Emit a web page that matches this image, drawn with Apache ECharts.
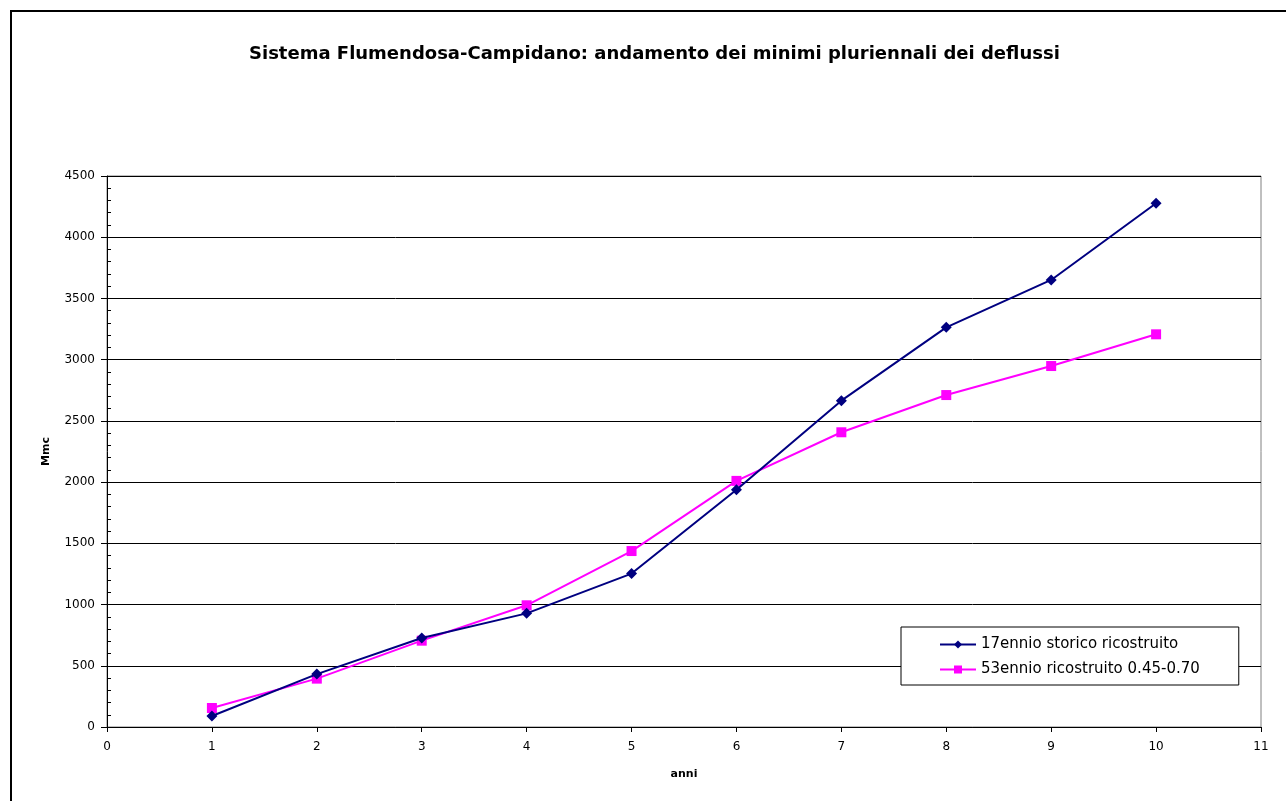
<!DOCTYPE html>
<html>
<head>
<meta charset="utf-8">
<title>Sistema Flumendosa-Campidano</title>
<script src="https://cdn.jsdelivr.net/npm/echarts@6/dist/echarts.min.js"></script>
<style>
  html, body { margin: 0; padding: 0; background: #ffffff; }
  #chart { width: 1286px; height: 801px; }
</style>
</head>
<body>
<div id="chart"></div>
<script>
// Years of the multi-year window (x) and minimum multi-year runoff (Mmc)
const anni = [1, 2, 3, 4, 5, 6, 7, 8, 9, 10];
const storico17 = [90, 432, 727, 928, 1253, 1937, 2665, 3264, 3651, 4277];
const ricostruito53 = [155, 395, 705, 994, 1437, 2010, 2407, 2711, 2948, 3207];

const seriesNames = ['17ennio storico ricostruito', '53ennio ricostruito 0.45-0.70'];
const titleText = 'Sistema Flumendosa-Campidano: andamento dei minimi pluriennali dei deflussi';

const FONT = 'DejaVu Sans, Liberation Sans, Arial, sans-serif';

const chart = echarts.init(document.getElementById('chart'), null, { renderer: 'canvas' });

const grid = { left: 107, top: 176, width: 1154, height: 551 };

chart.setOption({
  backgroundColor: '#ffffff',
  animation: false,
  title: {
    text: titleText,
    left: 244,
    top: 40,
    textStyle: { fontFamily: FONT, fontSize: 18, fontWeight: 'bold', color: '#000' }
  },
  graphic: [{
    type: 'rect',
    shape: { x: 11, y: 11, width: 1400, height: 1000 },
    style: { fill: 'none', stroke: '#000', lineWidth: 2 },
    silent: true
  }],
  legend: {
    orient: 'vertical',
    left: 901,
    top: 627,
    backgroundColor: '#ffffff',
    borderColor: '#000',
    borderWidth: 1,
    padding: [10, 39, 8, 38],
    itemGap: 10,
    itemWidth: 36,
    itemHeight: 10,
    textStyle: { fontFamily: FONT, fontSize: 15, color: '#000' },
    data: seriesNames
  },
  grid: Object.assign({ show: true, borderColor: '#808080', borderWidth: 1, backgroundColor: '#fff' }, grid),
  xAxis: {
    type: 'value',
    min: 0,
    max: 11,
    interval: 1,
    name: 'anni',
    nameLocation: 'middle',
    nameGap: 42,
    nameTextStyle: { fontFamily: FONT, fontSize: 11, fontWeight: 'bold', color: '#000' },
    axisLine: { show: true, lineStyle: { color: '#000', width: 1 } },
    axisTick: { show: true, length: 5, lineStyle: { color: '#000' } },
    axisLabel: { fontFamily: FONT, fontSize: 12, color: '#000', margin: 14 },
    splitLine: { show: false }
  },
  yAxis: [{
    type: 'value',
    position: 'left',
    min: 0,
    max: 4500,
    interval: 500,
    name: 'Mmc',
    nameLocation: 'middle',
    nameGap: 55,
    nameRotate: 90,
    nameTextStyle: { fontFamily: FONT, fontSize: 11, fontWeight: 'bold', color: '#000' },
    axisLine: { show: true, lineStyle: { color: '#000', width: 1 } },
    axisTick: { show: true, length: 6, lineStyle: { color: '#000' } },
    axisLabel: { fontFamily: FONT, fontSize: 12, color: '#000', margin: 12, formatter: v => String(v) },
    splitLine: { show: true, lineStyle: { color: '#000', width: 1 } }
  }, {
    // inner tick marks every 100
    type: 'value',
    position: 'left',
    min: 0,
    max: 4500,
    interval: 100,
    axisLine: { show: false },
    axisTick: { show: true, inside: true, length: 4, lineStyle: { color: '#000' } },
    axisLabel: { show: false },
    splitLine: { show: false }
  }],
  series: [{
    name: seriesNames[0],
    type: 'line',
    yAxisIndex: 0,
    data: anni.map((a, i) => [a, storico17[i]]),
    symbol: 'diamond',
    symbolSize: 11,
    showAllSymbol: true,
    lineStyle: { color: '#000080', width: 2 },
    itemStyle: { color: '#000080' },
    z: 3
  }, {
    name: seriesNames[1],
    type: 'line',
    yAxisIndex: 0,
    data: anni.map((a, i) => [a, ricostruito53[i]]),
    symbol: 'rect',
    symbolSize: 10,
    showAllSymbol: true,
    lineStyle: { color: '#ff00ff', width: 2 },
    itemStyle: { color: '#ff00ff' },
    z: 2
  }]
});
</script>
</body>
</html>
